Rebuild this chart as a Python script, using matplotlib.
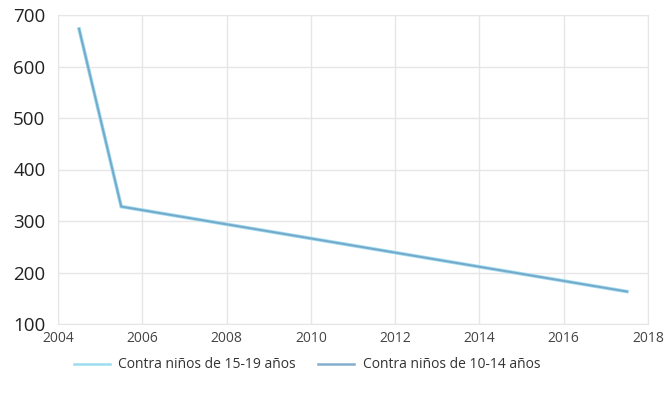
import matplotlib
matplotlib.use("Agg")
import matplotlib.pyplot as plt

years = [2004.5, 2005.5, 2017.5]
series_15_19 = [673, 328, 163]
series_10_14 = [673, 328, 163]
labels = ["Contra niños de 15-19 años", "Contra niños de 10-14 años"]
xticks = [2004, 2006, 2008, 2010, 2012, 2014, 2016, 2018]
yticks = [100, 200, 300, 400, 500, 600, 700]

plt.rcParams['font.family'] = ['Open Sans', 'DejaVu Sans']

fig = plt.figure(figsize=(6.64, 4.08), dpi=100)
ax = fig.add_axes([58/664, 1-324/408, (648-58)/664, (324-15)/408])

ax.plot(years, series_15_19, color="#9ddcee", lw=2.6, label=labels[0], solid_joinstyle='miter')
ax.plot(years, series_10_14, color="#6f9fc4", lw=1.4, label=labels[1], alpha=0.85)

ax.set_xlim(2004, 2018)
ax.set_ylim(100, 700)
ax.set_xticks(xticks)
ax.set_yticks(yticks)
ax.grid(True, color="#e6e6e6", lw=1)
ax.set_axisbelow(True)
for s in ax.spines.values():
    s.set_color("#e6e6e6")
ax.tick_params(length=0)
ax.tick_params(axis='y', labelsize=13.5, labelcolor="#222222", pad=9)
ax.tick_params(axis='x', labelsize=10, labelcolor="#444444", pad=5)

leg = fig.legend(loc='center', bbox_to_anchor=(307/664, 1-365/408), ncol=2, frameon=False,
                 fontsize=10, handlelength=2.6, columnspacing=1.6, handletextpad=0.6,
                 labelcolor="#333333")
for h in leg.get_lines():
    h.set_linewidth(1.8)

fig.savefig("out.png", dpi=100)
